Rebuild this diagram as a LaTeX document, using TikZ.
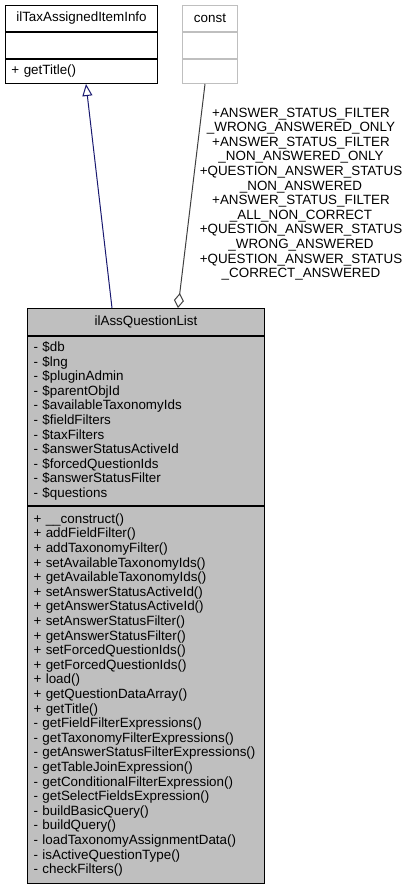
\documentclass[tikz,border=0pt]{standalone}
\usepackage{fontspec}
\setmainfont{Liberation Sans}
\usepackage{xcolor}
\usetikzlibrary{arrows.meta, calc}

\definecolor{listfill}{HTML}{BFBFBF}
\definecolor{constline}{HTML}{BFBFBF}
\definecolor{inheritcol}{HTML}{191970}
\definecolor{aggregcol}{HTML}{404040}

\tikzset{
  umlfont/.style={font=\fontsize{13.4}{14.6}\selectfont},
  parthead/.style={umlfont, draw, rectangle, anchor=north west, inner sep=0pt, line width=1pt, align=center},
  partbody/.style={umlfont, draw, rectangle, anchor=north west, inner xsep=6pt, inner ysep=0pt, line width=1pt, align=left},
  inherit/.style={draw=inheritcol, line width=1pt, -{Triangle[open, length=12pt, width=10pt]}},
  aggreg/.style={draw=aggregcol, line width=1pt, {Diamond[open, length=15pt, width=10pt]}-},
  edgelabel/.style={umlfont, align=center, inner sep=0pt}
}

\begin{document}
\begin{tikzpicture}[x=1pt, y=-1pt]
  \useasboundingbox (0,0) rectangle (412,888);

  % base class
  \node[parthead, minimum width=152pt, minimum height=26pt] (basetitle) at (5,5) {ilTaxAssignedItemInfo};
  \node[partbody, text width=140pt, minimum height=26pt] (baseattr) at (basetitle.south west) {};
  \node[partbody, text width=140pt, minimum height=24pt] (baseops) at (baseattr.south west) {+ getTitle()};

  % const
  \node[parthead, draw=constline, minimum width=55pt, minimum height=26pt] (consttitle) at (182,5) {const};
  \node[partbody, draw=constline, text width=43pt, minimum height=26pt] (constattr) at (consttitle.south west) {};
  \node[partbody, draw=constline, text width=43pt, minimum height=24pt] (constops) at (constattr.south west) {};

  % the class itself
  \node[parthead, fill=listfill, minimum width=237pt, minimum height=27pt] (listtitle) at (27,308) {ilAssQuestionList};
  \node[partbody, fill=listfill, text width=225pt, minimum height=169pt] (listattr) at (listtitle.south west) {%
    - \$db\\
    - \$lng\\
    - \$pluginAdmin\\
    - \$parentObjId\\
    - \$availableTaxonomyIds\\
    - \$fieldFilters\\
    - \$taxFilters\\
    - \$answerStatusActiveId\\
    - \$forcedQuestionIds\\
    - \$answerStatusFilter\\
    - \$questions};
  \node[partbody, fill=listfill, text width=225pt, minimum height=377pt] (listops) at (listattr.south west) {%
    + \_\_construct()\\
    + addFieldFilter()\\
    + addTaxonomyFilter()\\
    + setAvailableTaxonomyIds()\\
    + getAvailableTaxonomyIds()\\
    + setAnswerStatusActiveId()\\
    + getAnswerStatusActiveId()\\
    + setAnswerStatusFilter()\\
    + getAnswerStatusFilter()\\
    + setForcedQuestionIds()\\
    + getForcedQuestionIds()\\
    + load()\\
    + getQuestionDataArray()\\
    + getTitle()\\
    - getFieldFilterExpressions()\\
    - getTaxonomyFilterExpressions()\\
    - getAnswerStatusFilterExpressions()\\
    - getTableJoinExpression()\\
    - getConditionalFilterExpression()\\
    - getSelectFieldsExpression()\\
    - buildBasicQuery()\\
    - buildQuery()\\
    - loadTaxonomyAssignmentData()\\
    - isActiveQuestionType()\\
    - checkFilters()};

  % relations
  \draw[inherit] ($(listtitle.north west)+(85,0)$) -- ($(baseops.south west)+(81,0)$);
  \draw[aggreg] ($(listtitle.north west)+(151,0)$) -- ($(constops.south west)+(23,0)$);
  \node[edgelabel] (constlabel) at (301,194) {%
    +ANSWER\_STATUS\_FILTER\\
    \_WRONG\_ANSWERED\_ONLY\\
    +ANSWER\_STATUS\_FILTER\\
    \_NON\_ANSWERED\_ONLY\\
    +QUESTION\_ANSWER\_STATUS\\
    \_NON\_ANSWERED\\
    +ANSWER\_STATUS\_FILTER\\
    \_ALL\_NON\_CORRECT\\
    +QUESTION\_ANSWER\_STATUS\\
    \_WRONG\_ANSWERED\\
    +QUESTION\_ANSWER\_STATUS\\
    \_CORRECT\_ANSWERED};
\end{tikzpicture}
\end{document}
